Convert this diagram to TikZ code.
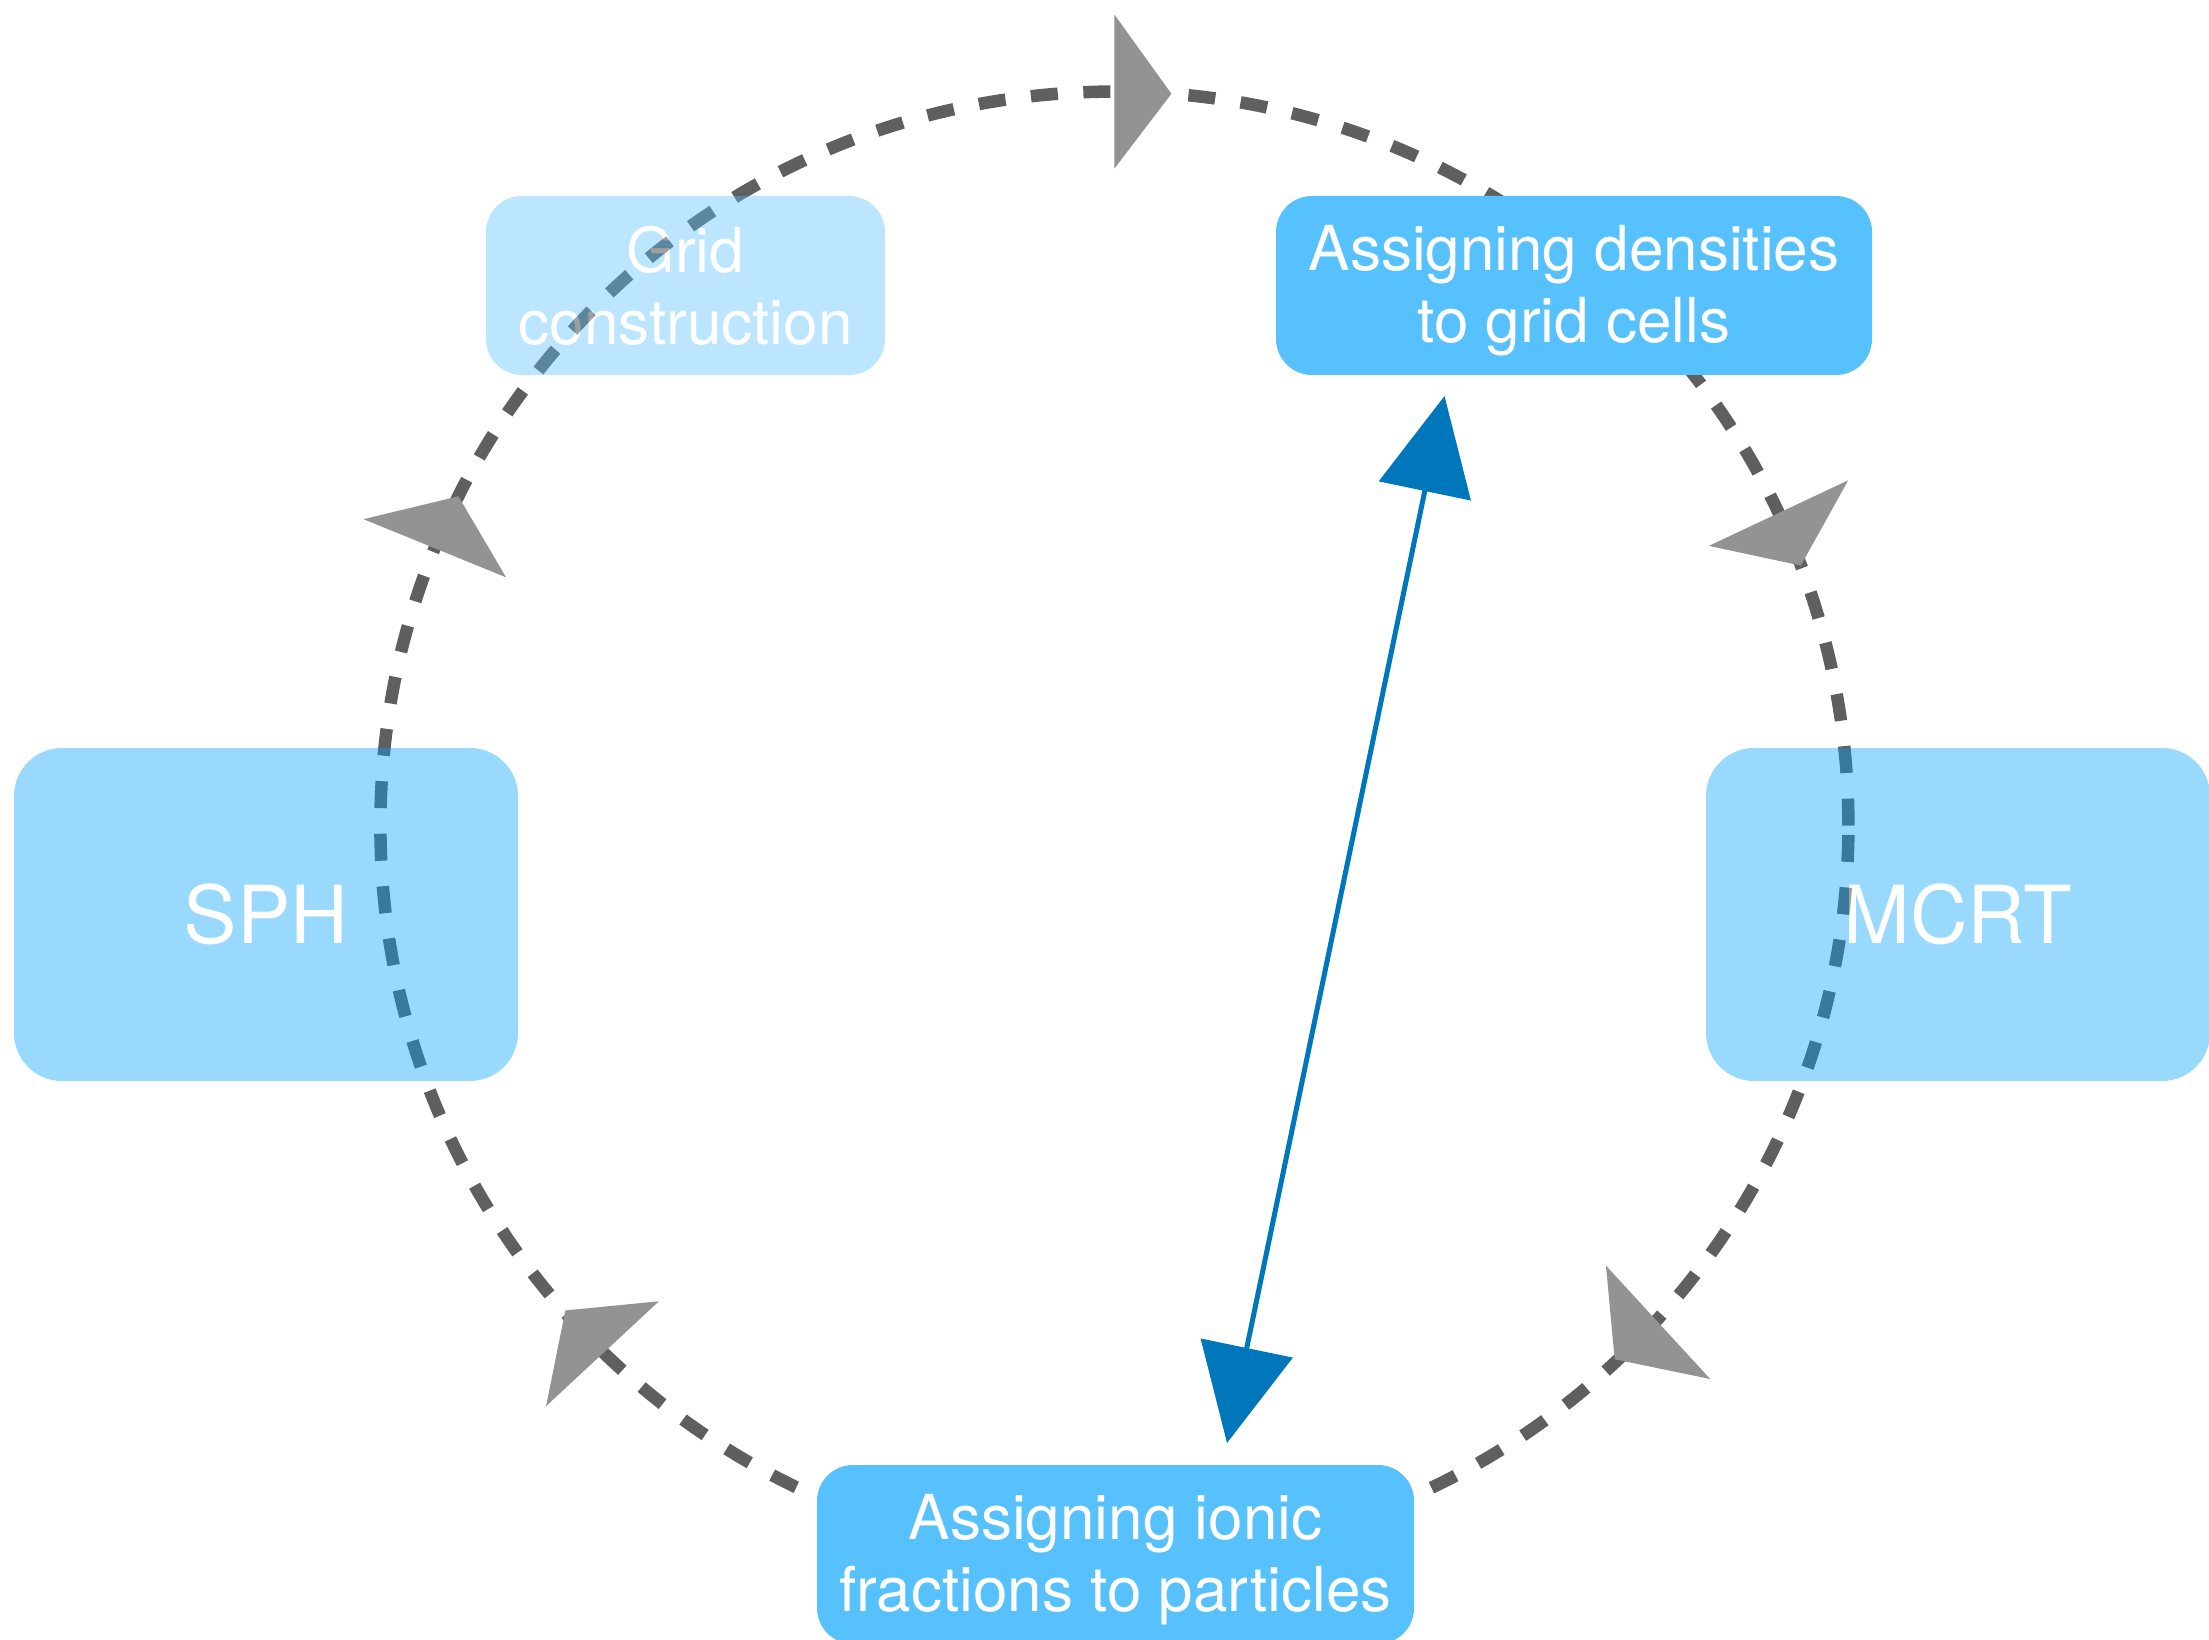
\documentclass[tikz,border=0pt]{standalone}
\usepackage{fontspec}
\setmainfont{TeX Gyre Heros}
\usetikzlibrary{arrows.meta}
\definecolor{dashgrey}{HTML}{5F5F5F}
\definecolor{headgrey}{HTML}{939393}
\definecolor{boxblue}{HTML}{57C1FE}
\definecolor{paleblue}{RGB}{0,160,252}
\definecolor{arrowblue}{HTML}{0077BB}
\begin{document}
\begin{tikzpicture}[x=0.5pt,y=0.5pt,
  stepbox/.style={rounded corners=18pt, fill=boxblue, text=white, align=center,
    inner sep=0pt, outer sep=0pt, font=\fontsize{31}{36}\selectfont,
    minimum height=89.5pt},
  lowtext/.style={text depth=1.2pt},
  bigbox/.style={rounded corners=24pt, fill=paleblue, text=white, align=center,
    inner sep=0pt, outer sep=0pt, font=\fontsize{40}{46}\selectfont,
    minimum width=252pt, minimum height=166.5pt},
  ringline/.style={draw=dashgrey, line width=6.25pt, dash pattern=on 13.5pt off 12.8pt},
  headtri/.style={fill=headgrey},
  link/.style={draw=arrowblue, line width=2.5pt,
    {Triangle[length=48.5pt,width=46.5pt]}-{Triangle[length=48.5pt,width=46.5pt]}}
]
\useasboundingbox (0,0) rectangle (2209,1639);
\coordinate (C) at (1114.4,813.4);
\draw[ringline] (C) circle[radius=734];
\foreach \a/\t in {90/0,25.2/0,-42.4/-5,-134.1/-3,157.8/0}{
  \fill[headtri, shift={(C)}, rotate=\a, rotate around={\t:(733,-28.5)}]
    (657,0) -- (811,0) -- (731.8,-57) -- cycle;
}
\begin{scope}[transparency group, opacity=0.4]
  \node[stepbox, minimum width=199.5pt] (grid) at (685.5,1353.5) {Grid\\construction};
\end{scope}
\begin{scope}[transparency group, opacity=0.4]
  \node[bigbox] (sph) at (266,724.5) {SPH};
\end{scope}
\begin{scope}[transparency group, opacity=0.4]
  \node[bigbox] (mcrt) at (1958,724.5) {MCRT};
\end{scope}
\node[stepbox, lowtext, minimum width=298pt] (dens) at (1574,1353.5) {Assigning densities\\to grid cells};
\node[stepbox, lowtext, minimum width=298.5pt] (ions) at (1115.5,84.5) {Assigning ionic\\fractions to particles};
\coordinate (lowtip) at (1227,196);
\coordinate (hightip) at (1444.5,1243);
\draw[link] (lowtip) -- (hightip);
\end{tikzpicture}
\end{document}
